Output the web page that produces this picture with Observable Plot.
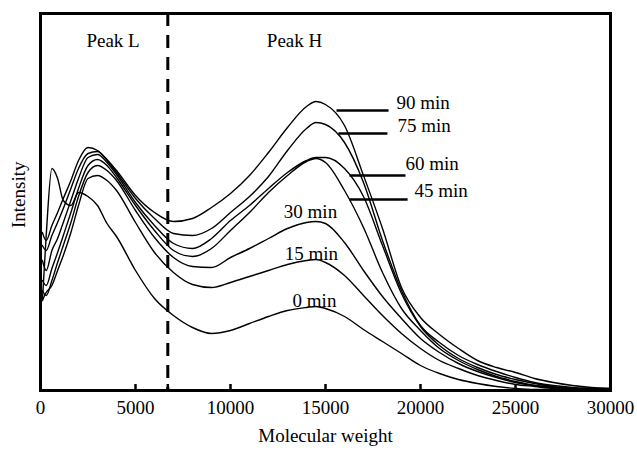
<!DOCTYPE html>
<html><head><meta charset="utf-8">
<script src="https://cdn.jsdelivr.net/npm/d3@7"></script>
<script src="https://cdn.jsdelivr.net/npm/@observablehq/plot@0.6"></script>
<style>body{margin:0;background:#fff}</style>
</head><body><div id="chart"></div>
<script>
// Molecular weight grid (x)
const molecularWeight = [100, 300, 600, 900, 1200, 1600, 2000, 2500, 3000, 3500, 4000, 5000, 6000, 7000, 8000, 9000, 10000, 11000, 12000, 13000, 14000, 14500, 15000, 16000, 17000, 18000, 19000, 20000, 21000, 22000, 23000, 24000, 25000, 26000, 27000, 28000, 29000, 30000];

// Intensity (arbitrary units) for each reaction time
const int0min  = [90, 155, 222, 212, 190, 185, 198, 194, 185, 167, 154, 120, 92, 75, 63, 57, 60, 67, 74, 80, 83, 84, 82, 74, 61, 49, 37, 25, 17, 11, 7, 4, 2, 1, 1, 0, 0, 0];
const int15min = [90, 98, 105, 120, 135, 158, 185, 212, 215, 210, 200, 168, 138, 118, 106, 103, 108, 114, 120, 126, 130, 131, 128, 115, 95, 75, 57, 42, 30, 22, 15, 10, 6, 4, 2, 1, 1, 1];
const int30min = [100, 95, 110, 128, 145, 168, 194, 218, 225, 220, 210, 180, 153, 133, 124, 123, 133, 142, 152, 162, 168, 169, 167, 148, 120, 94, 72, 52, 38, 27, 19, 13, 8, 5, 3, 2, 1, 1];
const int45min = [110, 105, 122, 138, 155, 178, 202, 225, 231, 225, 213, 185, 160, 140, 134, 142, 160, 178, 198, 215, 229, 232, 228, 200, 163, 118, 82, 60, 42, 30, 21, 14, 9, 5, 3, 2, 1, 1];
const int60min = [130, 120, 140, 152, 168, 190, 212, 233, 236, 228, 216, 188, 165, 147, 142, 152, 170, 185, 202, 218, 230, 233, 233, 222, 194, 145, 97, 64, 45, 32, 23, 16, 11, 7, 4, 2, 2, 1];
const int75min = [145, 140, 155, 168, 182, 202, 222, 237, 239, 230, 218, 192, 172, 157, 155, 162, 178, 194, 214, 240, 262, 268, 266, 248, 208, 150, 100, 65, 48, 35, 26, 19, 13, 8, 5, 3, 2, 2];
const int90min = [158, 150, 165, 178, 192, 210, 230, 243, 240, 231, 220, 195, 178, 169, 172, 183, 197, 215, 238, 263, 284, 289, 286, 265, 215, 162, 103, 73, 56, 42, 30, 23, 18, 12, 8, 5, 3, 2];

const seriesNames = ["0 min", "15 min", "30 min", "45 min", "60 min", "75 min", "90 min"];
const seriesValues = [int0min, int15min, int30min, int45min, int60min, int75min, int90min];

const xTickValues = [0, 5000, 10000, 15000, 20000, 25000, 30000];
const dividerMW = 6700;

// Annotation anchors in data units
const peakLabels = [
  {text: "Peak L", mw: 3820, y: 350},
  {text: "Peak H", mw: 13370, y: 350}
];
const leaderLines = [
  {name: "90 min", mw1: 15580, mw2: 18320, y: 280},
  {name: "75 min", mw1: 15680, mw2: 18260, y: 257},
  {name: "60 min", mw1: 16260, mw2: 19210, y: 215},
  {name: "45 min", mw1: 16260, mw2: 19320, y: 191}
];
const sideLabels = [
  {name: "90 min", mw: 18740, y: 288},
  {name: "75 min", mw: 18790, y: 265},
  {name: "60 min", mw: 19210, y: 227},
  {name: "45 min", mw: 19680, y: 200}
];
const topLabels = [
  {name: "30 min", mw: 14210, y: 179},
  {name: "15 min", mw: 14260, y: 137},
  {name: "0 min", mw: 14420, y: 90}
];

const rows = seriesNames.flatMap((name, i) =>
  molecularWeight.map((mw, j) => ({series: name, mw, intensity: seriesValues[i][j]})));

const chart = Plot.plot({
  width: 637,
  height: 453,
  marginLeft: 40,
  marginRight: 27,
  marginTop: 13,
  marginBottom: 63,
  style: {fontFamily: "'Liberation Serif', 'Times New Roman', serif", fontSize: "19px", color: "#000", background: "#fff"},
  x: {domain: [0, 30000], ticks: xTickValues, tickFormat: d => String(d)},
  y: {domain: [0, 377], axis: null},
  marks: [
    Plot.line(rows, {x: "mw", y: "intensity", z: "series", stroke: "#000", strokeWidth: 1.4, curve: "monotone-x"}),
    Plot.ruleX([dividerMW], {stroke: "#000", strokeWidth: 3, strokeDasharray: "13,9"}),
    Plot.link(leaderLines, {x1: "mw1", x2: "mw2", y1: "y", y2: "y", stroke: "#000", strokeWidth: 2.5}),
    Plot.text(sideLabels, {x: "mw", y: "y", text: "name", textAnchor: "start", fill: "#000"}),
    Plot.text(topLabels, {x: "mw", y: "y", text: "name", textAnchor: "middle", fill: "#000"}),
    Plot.text(peakLabels, {x: "mw", y: "y", text: "text", textAnchor: "middle", fill: "#000"}),
    Plot.tickX([...xTickValues.slice(1, -1), dividerMW], {x: d => d, stroke: "#000", strokeWidth: 2.5, insetTop: 371}),
    Plot.axisX({ticks: xTickValues, tickSize: 0, tickPadding: 10, tickFormat: d => String(d), label: null, fill: "#000"}),
    Plot.text(["Molecular weight"], {frameAnchor: "bottom", dy: 51, fill: "#000"}),
    Plot.text(["Intensity"], {frameAnchor: "left", dx: -22, dy: 26, rotate: -90, fill: "#000"}),
    Plot.frame({stroke: "#000", strokeWidth: 3})
  ]
});
document.getElementById("chart").appendChild(chart);
</script>
</body></html>
